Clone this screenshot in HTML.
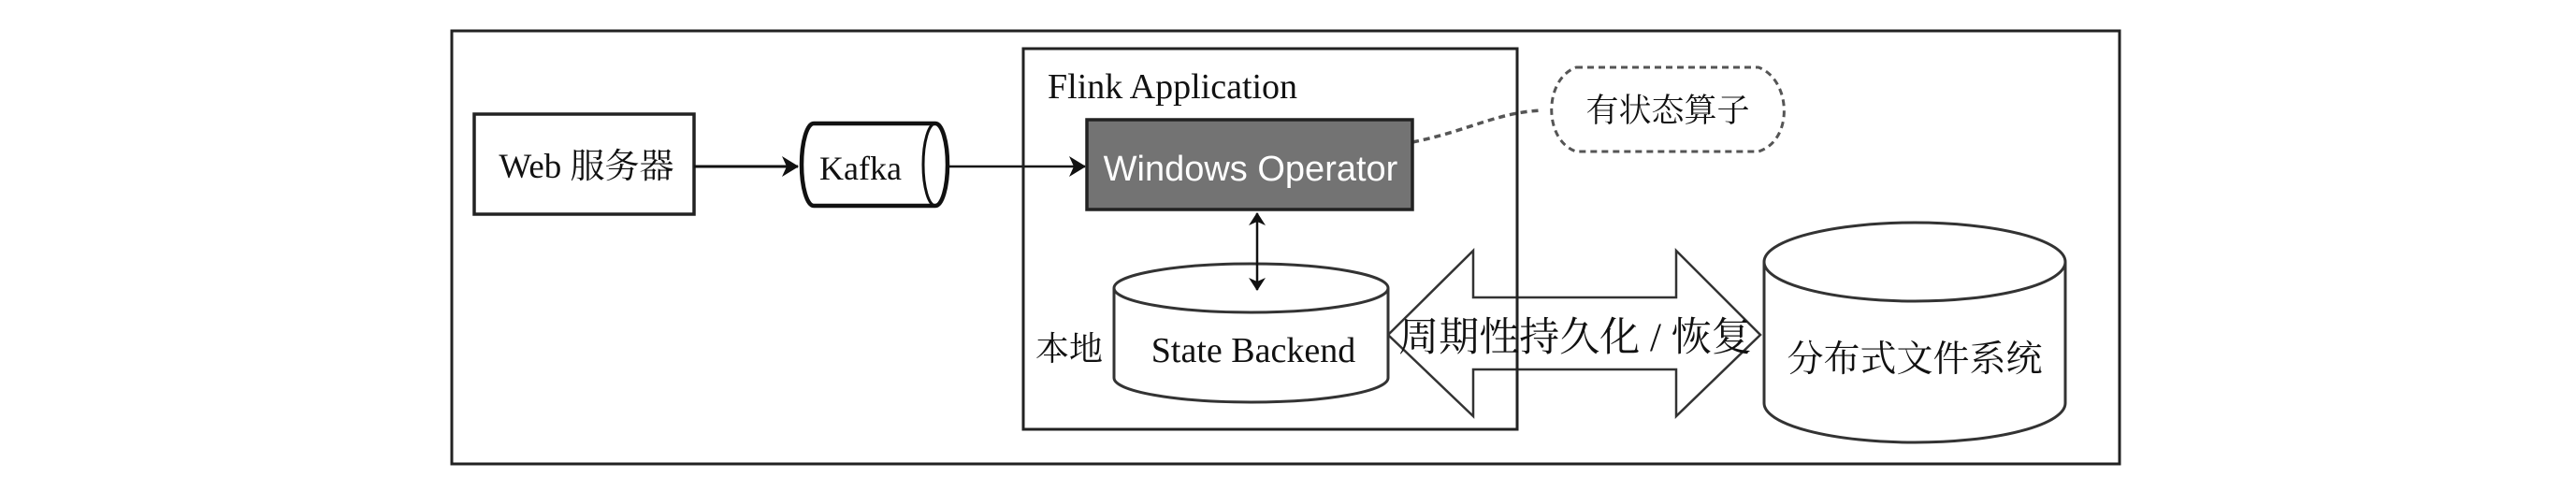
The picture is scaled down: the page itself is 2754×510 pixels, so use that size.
<!DOCTYPE html>
<html><head><meta charset="utf-8"><style>
html,body{margin:0;padding:0;background:#fff;}
svg{display:block;}
text{font-family:"Liberation Serif","Noto Serif CJK SC",serif;fill:#111;}
</style></head><body>
<svg width="2754" height="510" viewBox="0 0 2754 510" xmlns="http://www.w3.org/2000/svg">
<defs>
<marker id="ah2" markerWidth="14" markerHeight="18" refX="13" refY="9" orient="auto-start-reverse" markerUnits="userSpaceOnUse" viewBox="0 0 14 18">
<path d="M0,0 L14,9 L0,18 L4,9 Z" fill="#111"/>
</marker>
<marker id="ah3" markerWidth="18" markerHeight="22" refX="17" refY="11" orient="auto" markerUnits="userSpaceOnUse" viewBox="0 0 18 22">
<path d="M0,0 L18,11 L0,22 L5,11 Z" fill="#111"/>
</marker>
</defs>
<rect width="2754" height="510" fill="#fff"/>
<rect x="483" y="33" width="1783" height="463" fill="none" stroke="#222" stroke-width="3"/>
<rect x="507" y="122" width="235" height="107" fill="#fff" stroke="#222" stroke-width="3.5"/>
<text x="627" y="190" font-size="37" text-anchor="middle">Web 服务器</text>
<line x1="742" y1="178" x2="853" y2="178" stroke="#111" stroke-width="3" marker-end="url(#ah3)"/>
<path d="M870,132 L1000,132 A13,44 0 0 1 1000,220 L870,220 A13,44 0 0 1 870,132 Z" fill="#fff" stroke="#111" stroke-width="4.5"/>
<ellipse cx="1000" cy="176" rx="13" ry="44" fill="none" stroke="#111" stroke-width="3"/>
<text x="920" y="192" font-size="36" text-anchor="middle">Kafka</text>
<line x1="1013" y1="178" x2="1160" y2="178" stroke="#111" stroke-width="2.5" marker-end="url(#ah3)"/>
<path d="M1510,152 C1570,140 1600,120 1649,118" fill="none" stroke="#555" stroke-width="3.5" stroke-dasharray="7,5"/>
<path d="M1685,72 L1880,72 C1915,85 1918,150 1880,162 L1685,162 C1650,150 1650,85 1685,72 Z" fill="#fff" stroke="#555" stroke-width="3" stroke-dasharray="7,5"/>
<text x="1783" y="130" font-size="35" text-anchor="middle">有状态算子</text>
<path d="M1484,358 L1575,268 L1575,318 L1792,318 L1792,268 L1882,358 L1792,445 L1792,395 L1575,395 L1575,445 Z" fill="#fff" stroke="#333" stroke-width="2.5"/>
<rect x="1094" y="52" width="528" height="407" fill="none" stroke="#222" stroke-width="3"/>
<text x="1120" y="105" font-size="38">Flink Application</text>
<text x="1684" y="375" font-size="43" text-anchor="middle">周期性持久化 / 恢复</text>
<rect x="1162" y="128" width="348" height="96" fill="#737373" stroke="#222" stroke-width="3.5"/>
<text x="1337" y="193" font-size="38" text-anchor="middle" style="font-family:'Liberation Sans',sans-serif;fill:#fff;">Windows Operator</text>
<path d="M1191,308 L1191,404 A146.5,26 0 0 0 1484,404 L1484,308" fill="#fff" stroke="#333" stroke-width="3"/>
<ellipse cx="1337.5" cy="308" rx="146.5" ry="26" fill="#fff" stroke="#333" stroke-width="3"/>
<text x="1340" y="387" font-size="38" text-anchor="middle">State Backend</text>
<text x="1143" y="385" font-size="36" text-anchor="middle">本地</text>
<line x1="1344" y1="228" x2="1344" y2="310" stroke="#111" stroke-width="2.5" marker-start="url(#ah2)" marker-end="url(#ah2)"/>
<path d="M1886,280 L1886,431 A161,42 0 0 0 2208,431 L2208,280" fill="#fff" stroke="#333" stroke-width="3"/>
<ellipse cx="2047" cy="280" rx="161" ry="42" fill="#fff" stroke="#333" stroke-width="3"/>
<text x="2047" y="397" font-size="39" text-anchor="middle">分布式文件系统</text>
</svg>
</body></html>
